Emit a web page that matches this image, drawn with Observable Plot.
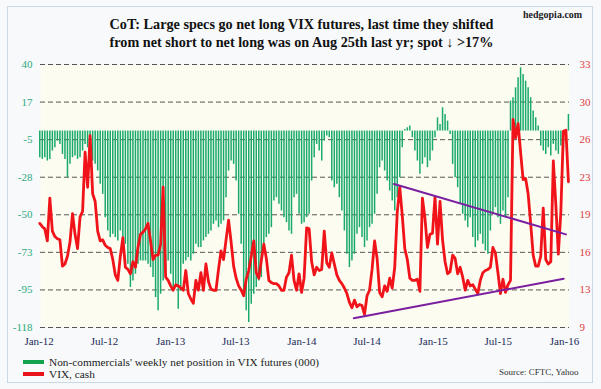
<!DOCTYPE html>
<html><head><meta charset="utf-8">
<script src="https://cdn.jsdelivr.net/npm/d3@7"></script>
<script src="https://cdn.jsdelivr.net/npm/@observablehq/plot@0.6"></script>
<style>
body{margin:0;background:#fff;}
#wrap{position:relative;width:601px;height:389px;background:#f7f9fa;overflow:hidden;font-family:"Liberation Serif","Times New Roman",serif;}
#frame{position:absolute;left:7px;top:6px;width:586px;height:377px;border:1px solid #c9d8e6;box-sizing:border-box;}
.t{position:absolute;white-space:nowrap;}
#title{left:0;top:15px;width:603px;text-align:center;font-weight:bold;font-size:14.2px;line-height:18px;color:#111;}
#brand{left:523px;top:9px;font-weight:bold;font-size:10px;color:#222;}
.leg{left:23px;font-size:11.3px;color:#222;line-height:12px;}
.sw{display:inline-block;width:21px;height:4px;vertical-align:middle;margin-right:5px;position:relative;top:-1px;}
#source{left:499px;top:367px;font-size:9px;color:#333;}
</style></head><body>
<div id="wrap">
 <div id="frame"></div>
 <div id="chart" style="position:absolute;left:0;top:0"></div>
 <div class="t" id="title">CoT: Large specs go net long VIX futures, last time they shifted<br>from net short to net long was on Aug 25th last yr; spot ↓ &gt;17%</div>
 <div class="t" id="brand">hedgopia.com</div>
 <div class="t leg" style="top:356px"><span class="sw" style="background:#13a34a"></span>Non-commercials' weekly net position in VIX futures (000)</div>
 <div class="t leg" style="top:368px"><span class="sw" style="background:#e8141b"></span>VIX, cash</div>
 <div class="t" id="source">Source: CFTC, Yahoo</div>
</div>
<script>
// weekly series, first week 2012-01-03
const firstWeek = "2012-01-03";
const netPosition = [
-16,-17,-16,-18,-17,-12,-10,-6,-8,-14,
-17,-28,-20,-16,-15,-17,-16,-12,-8,-10,
-14,-18,-20,-24,-32,-38,-52,-60,-64,-62,
-64,-66,-60,-64,-68,-80,-94,-90,-86,-80,
-78,-78,-78,-80,-82,-88,-100,-108,-98,-90,
-84,-78,-86,-95,-92,-107,-96,-80,-78,-76,
-78,-74,-68,-70,-70,-66,-64,-62,-60,-56,
-54,-58,-56,-54,-40,-24,-18,-20,-30,-50,
-68,-98,-108,-115,-104,-98,-94,-90,-88,-72,
-64,-62,-58,-42,-40,-44,-48,-52,-55,-60,
-62,-40,-38,-50,-56,-55,-52,-50,-30,-16,
-8,-12,-18,-6,-3,-4,-30,-34,-32,-40,
-48,-60,-74,-82,-78,-74,-62,-58,-64,-70,
-66,-58,-56,-50,-38,-22,-18,-24,-30,-36,
-42,-48,-40,-28,-10,1,2,3,-4,-12,
-18,-26,-20,-16,-22,-18,-12,-4,8,4,
14,10,6,-2,-20,-28,-34,-44,-50,-54,
-58,-52,-64,-70,-66,-62,-68,-72,-74,-60,
-50,-46,-52,-56,-48,-52,-40,18,20,26,
32,38,34,30,26,20,12,8,3,-9,
-12,-14,-10,-15,-8,-12,-14,-9,-12,-6,10
];
const vixCash = [
18.5,18.2,18.0,16.9,20.8,17.8,17.3,17.1,17.0,14.6,
14.8,15.5,16.8,19.4,17.5,16.2,19.1,19.6,25.0,21.8,
26.5,21.2,20.5,17.8,16.9,17.0,16.5,16.3,16.2,15.2,
13.8,13.3,15.5,17.2,14.5,14.3,13.9,15.0,14.5,16.3,
17.5,17.7,18.0,18.5,16.9,15.2,15.6,15.6,16.6,21.8,
13.6,13.3,12.8,12.4,12.9,12.8,12.6,12.4,14.2,12.1,
11.6,11.2,13.3,12.4,14.0,12.4,14.8,13.2,12.5,12.4,
12.4,14.3,16.0,15.2,17.0,18.8,16.8,14.6,13.5,12.8,
12.4,11.9,13.4,14.2,15.5,16.9,14.0,13.5,15.1,16.6,
15.3,13.3,13.1,13.0,13.0,12.8,12.4,12.4,13.6,14.0,
15.6,13.3,12.4,13.9,12.2,13.5,18.1,18.0,15.0,13.8,
14.5,14.2,14.3,17.8,14.9,14.5,15.8,14.8,13.8,13.3,
13.0,12.6,12.1,11.3,10.8,11.5,10.9,11.1,11.0,10.2,
11.9,12.4,14.3,16.9,15.3,12.2,11.8,12.8,12.3,13.5,
12.6,14.5,19.5,21.8,19.2,16.2,15.2,13.5,13.3,13.3,
13.4,12.3,20.8,19.0,16.3,17.5,17.6,20.9,16.6,20.5,
17.0,15.0,13.9,14.1,15.6,15.3,13.9,14.5,13.6,12.4,
13.3,12.8,12.9,12.5,12.1,13.3,14.0,14.2,14.3,14.5,
16.3,15.8,14.0,12.1,13.4,12.2,12.9,13.3,28.0,26.3,
27.6,25.0,22.5,22.6,21.2,18.5,15.6,14.6,14.6,15.5,
19.9,15.2,14.8,15.0,24.2,20.2,15.7,19.6,26.9,27.0,22.3
];
// purple trend lines (VIX units)
const trendUpperDates = ["2014-09-14", "2016-01-05"];
const trendUpperVix = [22.1, 17.5];
const trendLowerDates = ["2014-05-25", "2015-12-30"];
const trendLowerVix = [9.85, 13.45];

const leftTickLabels = ["-118","-95","-73","-50","-28","-5","17","40"];
const rightTickLabels = ["9","13","16","19","23","26","30","33"];
const xTickDates = ["2012-01-01","2012-07-01","2013-01-01","2013-07-01","2014-01-01","2014-07-01","2015-01-01","2015-07-01","2016-01-01"];

const leftMin = -118, leftMax = 40, vixMin = 9, vixMax = 33;
const toLeft = v => leftMin + (v - vixMin) * (leftMax - leftMin) / (vixMax - vixMin);

const t0 = new Date(firstWeek + "T00:00:00Z").getTime();
const weeks = netPosition.map((n, i) => ({date: new Date(t0 + i * 7 * 864e5), net: n, vix: vixCash[i]}));
const upper = trendUpperDates.map((d, i) => ({date: new Date(d), vix: trendUpperVix[i]}));
const lower = trendLowerDates.map((d, i) => ({date: new Date(d), vix: trendLowerVix[i]}));

const nT = leftTickLabels.length;
const tickPos = d3.range(nT).map(k => leftMin + k * (leftMax - leftMin) / (nT - 1));
const leftMap = new Map(tickPos.map((p, k) => [p, leftTickLabels[k]]));
const rightMap = new Map(tickPos.map((p, k) => [p, rightTickLabels[k]]));
const xTicks = xTickDates.map(d => new Date(d));
const fmtX = d3.utcFormat("%b-%y");

const chart = Plot.plot({
  width: 601, height: 389,
  marginTop: 64, marginBottom: 62, marginLeft: 40, marginRight: 32,
  style: {background: "transparent", fontFamily: "'Liberation Serif','Times New Roman',serif", fontSize: "11px"},
  x: {type: "utc", domain: [new Date("2012-01-05"), new Date("2016-01-15")]},
  y: {domain: [leftMin, leftMax]},
  marks: [
    Plot.frame({fill: "#fcfcf0", stroke: "none"}),
    Plot.gridY(tickPos, {stroke: "#555", strokeOpacity: 1, strokeWidth: 1, strokeDasharray: "5,3"}),
    Plot.ruleX(weeks, {x: "date", y1: 0, y2: "net", stroke: "#1aa96e", strokeWidth: 1.5}),
    Plot.line(weeks, {x: "date", y: d => toLeft(d.vix), stroke: "#f0141a", strokeWidth: 2.8, strokeLinejoin: "round"}),
    Plot.line(upper, {x: "date", y: d => toLeft(d.vix), stroke: "#7a1fa0", strokeWidth: 2}),
    Plot.line(lower, {x: "date", y: d => toLeft(d.vix), stroke: "#7a1fa0", strokeWidth: 2}),
    Plot.axisY(tickPos, {anchor: "left", tickSize: 0, tickPadding: 8, tickFormat: d => leftMap.get(d), fill: "#2eaa7e", label: null}),
    Plot.axisY(tickPos, {anchor: "right", tickSize: 0, tickPadding: 10, tickFormat: d => rightMap.get(d), fill: "#e2393c", label: null}),
    Plot.axisX(xTicks, {tickSize: 0, tickPadding: 10, tickFormat: fmtX, fill: "#1c2b58", label: null})
  ]
});
document.getElementById("chart").appendChild(chart);
</script>
</body></html>
